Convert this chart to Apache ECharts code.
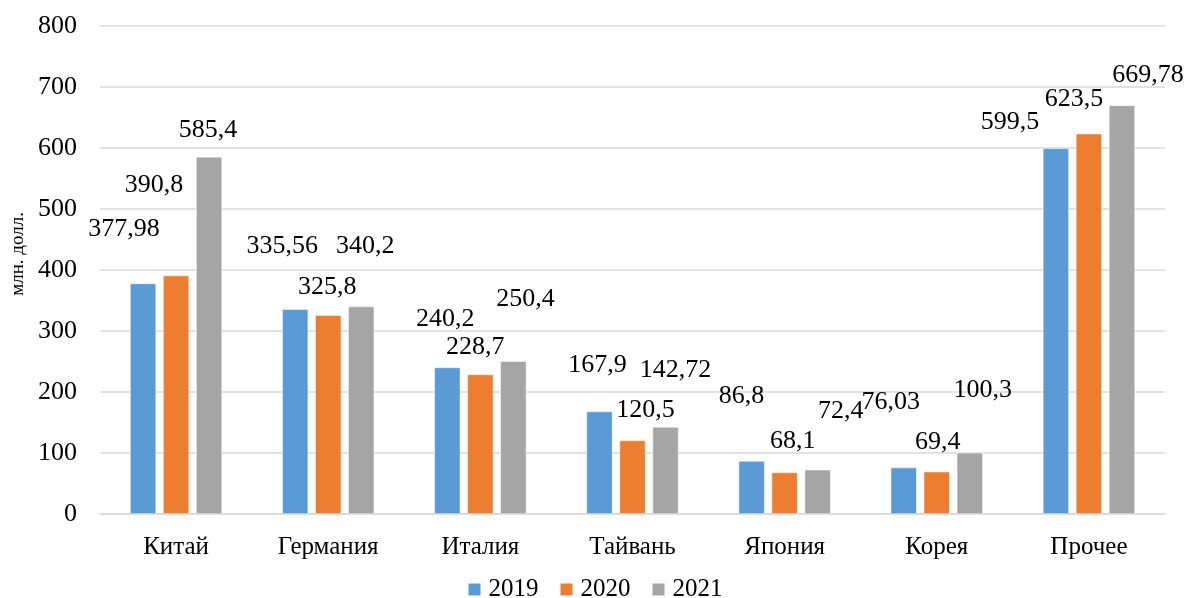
<!DOCTYPE html>
<html>
<head>
<meta charset="utf-8">
<script src="https://cdn.jsdelivr.net/npm/echarts@6/dist/echarts.min.js"></script>
<style>html,body{margin:0;padding:0;background:#fff;}#c{width:1189px;height:598px;}</style>
</head>
<body>
<div id="c"></div>
<script>
const categories = ['Китай','Германия','Италия','Тайвань','Япония','Корея','Прочее'];
const v2019 = [377.98, 335.56, 240.2, 167.9, 86.8, 76.03, 599.5];
const v2020 = [390.8, 325.8, 228.7, 120.5, 68.1, 69.4, 623.5];
const v2021 = [585.4, 340.2, 250.4, 142.72, 72.4, 100.3, 669.78];
const seriesNames = ['2019','2020','2021'];
const yTicks = {min: 0, max: 800, interval: 100};

// label offsets (styling only): [dx, dy] from bar top center
const off2019 = [[-19,-54],[-13,-63],[-2,-48],[-2,-46],[-10,-65],[-13,-65],[-46,-26]];
const off2020 = [[-22,-90],[-1,-28],[-5,-27],[13,-30],[8,-31],[1,-29],[-15,-34]];
const off2021 = [[-1,-27],[4,-60],[12,-62],[10,-57],[23,-59],[13,-63],[26,-30]];

const font = '"Liberation Serif","Times New Roman",serif';
const colors = ['#5B9BD5','#ED7D31','#A5A5A5'];
function fmt(v){ return String(v).replace('.', ','); }
function mk(name, vals, offs, color){
  return {
    name: name, type: 'bar', barWidth: 26, barGap: '27%',
    itemStyle: {color: color, borderColor: '#fff', borderWidth: 0.5},
    data: vals.map((v,i)=>({value:v, label:{offset: offs[i]}})),
    label: {show:true, position:['50%',0], align:'center', verticalAlign:'middle',
      fontFamily: font, fontSize: 26, color:'#000', formatter: p=>fmt(p.value)}
  };
}
const chart = echarts.init(document.getElementById('c'));
chart.setOption({
  animation:false,
  color: colors,
  grid:{left:100, right:24, top:26, bottom:84},
  legend:{top:577, left:'center', padding:0, itemWidth:14, itemHeight:14, itemGap:20, icon:'rect',
    textStyle:{fontFamily:font, fontSize:25, color:'#000', padding:[0,0,0,2]}, data: seriesNames},
  xAxis:{type:'category', data:categories,
    axisLine:{lineStyle:{color:'#D9D9D9', width:1.5}}, axisTick:{show:false},
    axisLabel:{fontFamily:font, fontSize:25, color:'#000', margin:21}},
  yAxis:{type:'value', min:yTicks.min, max:yTicks.max, interval:yTicks.interval,
    axisLine:{show:false}, axisTick:{show:false},
    splitLine:{lineStyle:{color:'#D9D9D9', width:1.5}},
    axisLabel:{fontFamily:font, fontSize:26, color:'#000', margin:23}},
  graphic:[{type:'text', left: 9, top: 212, rotation: Math.PI/2,
    style:{text:'млн. долл.', fontFamily:font, fontSize:19, fill:'#000'}}],
  series:[mk(seriesNames[0], v2019, off2019, colors[0]), mk(seriesNames[1], v2020, off2020, colors[1]), mk(seriesNames[2], v2021, off2021, colors[2])]
});
</script>
</body>
</html>
